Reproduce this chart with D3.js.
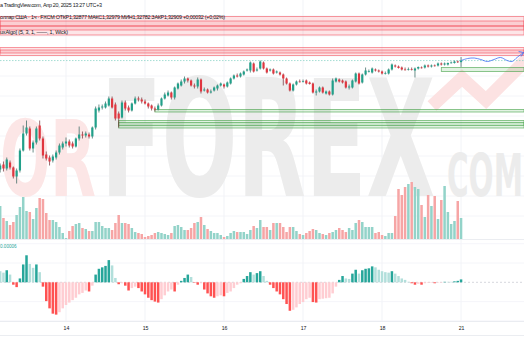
<!DOCTYPE html>
<html><head><meta charset="utf-8">
<script src="https://cdn.jsdelivr.net/npm/d3@7/dist/d3.min.js"></script>
<style>html,body{margin:0;padding:0;background:#fff;overflow:hidden}svg{display:block}</style>
</head><body>
<svg id="c" width="524" height="350"></svg>
<script>
// ---- data (GBP/USD 1h, FXCM) ----
const openP = [1.3073,1.3083,1.3075,1.3087,1.3077,1.3059,1.3071,1.3111,1.3145,1.3155,1.3115,1.3127,1.3161,1.3135,1.3103,1.3097,1.3091,1.3097,1.3107,1.3117,1.3125,1.3129,1.3125,1.3119,1.3135,1.3143,1.3141,1.3143,1.3139,1.3157,1.3191,1.3197,1.3197,1.3201,1.3215,1.3203,1.3185,1.3177,1.3207,1.3197,1.3191,1.3205,1.3215,1.3213,1.3209,1.3205,1.3201,1.3195,1.3193,1.3201,1.3215,1.3221,1.3227,1.3217,1.3235,1.3241,1.3249,1.3255,1.3251,1.3241,1.3239,1.3253,1.3231,1.3233,1.3227,1.3231,1.3235,1.3241,1.3243,1.3239,1.3245,1.3255,1.3261,1.3259,1.3263,1.3271,1.3271,1.3285,1.3271,1.3275,1.3287,1.3275,1.3271,1.3273,1.3267,1.3267,1.3263,1.3255,1.3245,1.3231,1.3243,1.3249,1.3249,1.3251,1.3247,1.3245,1.3227,1.3229,1.3237,1.3225,1.3229,1.3223,1.3249,1.3253,1.3251,1.3249,1.3237,1.3237,1.3249,1.3265,1.3247,1.3263,1.3269,1.3267,1.3273,1.3271,1.3269,1.3265,1.3265,1.3273,1.3281,1.3279,1.3277,1.3273,1.3273,1.3274,1.3271,1.3275,1.3277,1.3277,1.3281,1.3279,1.3281,1.3281,1.3285,1.3283,1.3283,1.3286,1.3286,1.3289,1.32877];
const highP = [1.3085,1.3089,1.3097,1.3091,1.3079,1.3075,1.3115,1.3161,1.3171,1.3159,1.3131,1.3159,1.3171,1.3139,1.3109,1.3101,1.3103,1.3111,1.3125,1.3129,1.3137,1.3133,1.3129,1.3137,1.3159,1.3149,1.3149,1.3147,1.3159,1.3199,1.3203,1.3203,1.3209,1.3219,1.3219,1.3207,1.3189,1.3211,1.3211,1.3201,1.3207,1.3219,1.3219,1.3217,1.3213,1.3207,1.3203,1.3199,1.3205,1.3217,1.3227,1.3231,1.3229,1.3239,1.3247,1.3253,1.3259,1.3257,1.3253,1.3245,1.3257,1.3255,1.3237,1.3235,1.3233,1.3239,1.3243,1.3247,1.3245,1.3249,1.3257,1.3263,1.3265,1.3267,1.3271,1.3275,1.3289,1.3287,1.3277,1.3291,1.3289,1.3277,1.3275,1.3275,1.3271,1.3269,1.3265,1.3257,1.3247,1.3245,1.3251,1.3253,1.3253,1.3253,1.3249,1.3247,1.3233,1.3239,1.3239,1.3231,1.3231,1.3255,1.3257,1.3255,1.3253,1.3251,1.3243,1.3253,1.3267,1.3267,1.3265,1.3277,1.3273,1.3277,1.3275,1.3273,1.3271,1.3269,1.3275,1.3285,1.3283,1.3281,1.3279,1.3277,1.3277,1.3277,1.3277,1.3279,1.3279,1.3283,1.3283,1.3283,1.3283,1.3287,1.3287,1.3287,1.3287,1.3289,1.3291,1.3291,1.32979];
const lowP = [1.3067,1.3069,1.3071,1.3073,1.3055,1.3045,1.3067,1.3109,1.3141,1.3111,1.3107,1.3123,1.3131,1.3095,1.3091,1.3081,1.3087,1.3093,1.3103,1.3113,1.3119,1.3117,1.3115,1.3117,1.3131,1.3135,1.3137,1.3135,1.3135,1.3153,1.3187,1.3193,1.3195,1.3199,1.3195,1.3171,1.3157,1.3175,1.3191,1.3187,1.3189,1.3203,1.3209,1.3205,1.3203,1.3195,1.3191,1.3189,1.3191,1.3199,1.3213,1.3219,1.3213,1.3213,1.3233,1.3239,1.3245,1.3247,1.3239,1.3235,1.3235,1.3225,1.3229,1.3225,1.3225,1.3229,1.3231,1.3239,1.3235,1.3237,1.3243,1.3253,1.3257,1.3257,1.3261,1.3269,1.3267,1.3267,1.3269,1.3273,1.3273,1.3265,1.3269,1.3263,1.3265,1.3261,1.3241,1.3243,1.3229,1.3229,1.3241,1.3247,1.3247,1.3243,1.3243,1.3225,1.3221,1.3227,1.3225,1.3223,1.3221,1.3221,1.3247,1.3247,1.3245,1.3235,1.3233,1.3235,1.3247,1.3243,1.3245,1.3261,1.3267,1.3265,1.3269,1.3267,1.3263,1.3263,1.3263,1.3271,1.3277,1.3275,1.3271,1.3271,1.3271,1.3271,1.3257,1.3273,1.3275,1.3275,1.3277,1.3277,1.3279,1.3279,1.3281,1.3281,1.3281,1.3285,1.3285,1.3286,1.32782];
const closeP = [1.3081,1.3075,1.3093,1.3077,1.3059,1.3071,1.3111,1.3145,1.3157,1.3115,1.3127,1.3155,1.3135,1.3101,1.3095,1.3089,1.3099,1.3107,1.3121,1.3125,1.3129,1.3121,1.3119,1.3135,1.3143,1.3141,1.3145,1.3139,1.3157,1.3195,1.3197,1.3199,1.3205,1.3215,1.3197,1.3175,1.3175,1.3207,1.3195,1.3191,1.3205,1.3215,1.3213,1.3209,1.3205,1.3199,1.3195,1.3193,1.3201,1.3215,1.3223,1.3227,1.3217,1.3237,1.3245,1.3249,1.3255,1.3251,1.3241,1.3239,1.3253,1.3229,1.3233,1.3227,1.3229,1.3237,1.3241,1.3245,1.3239,1.3247,1.3255,1.3261,1.3259,1.3265,1.3269,1.3273,1.3287,1.3269,1.3273,1.3289,1.3275,1.3267,1.3273,1.3265,1.3269,1.3263,1.3255,1.3245,1.3231,1.3243,1.3249,1.3248,1.3250,1.3245,1.3244,1.3227,1.3229,1.3237,1.3227,1.3229,1.3223,1.3251,1.3255,1.3249,1.3247,1.3237,1.3239,1.3251,1.3265,1.3245,1.3263,1.3271,1.3270,1.3275,1.3271,1.3269,1.3265,1.3266,1.3273,1.3283,1.3279,1.3276,1.3273,1.3272,1.3274,1.3273,1.3275,1.3278,1.3276,1.3281,1.3279,1.3281,1.3280,1.3285,1.3283,1.3285,1.3286,1.3287,1.3289,1.32877,1.32909];
const volume = [16500,10500,9000,7000,8500,12000,16000,21000,14000,13500,10000,15500,20500,20000,13000,9500,9500,8500,6000,3000,500,4000,6500,7500,8000,5500,5000,4000,4000,8500,8500,6500,5500,5500,4500,8000,12000,8000,8000,7500,5500,3500,3000,2500,1000,1500,2000,3000,3500,3000,2500,2000,3000,6500,7000,6000,4500,4500,5500,8000,8500,11000,7000,5000,4000,3000,3000,2000,1000,1500,3000,4000,3500,3500,3500,2500,4500,6500,5500,9500,6000,6000,4500,8000,8000,8000,6000,3500,6000,6000,4000,2500,2000,3000,4000,5000,4500,3000,2500,2000,3000,3500,4500,5500,4500,3500,5500,4500,8000,9500,8500,6000,6000,6000,3000,3500,2000,1500,3000,3000,11500,25000,22000,26000,27500,28500,26000,25000,17000,11000,22000,16500,21500,10000,19500,26500,13500,7500,9000,19000,10500];
const macdHist = [0.00023,0.00020,0.00025,0.00016,-0.00005,-0.00010,0.00008,0.00037,0.00056,0.00038,0.00030,0.00037,0.00021,-0.00009,-0.00039,-0.00054,-0.00065,-0.00067,-0.00062,-0.00054,-0.00047,-0.00042,-0.00037,-0.00032,-0.00025,-0.00022,-0.00017,-0.00019,-0.00007,0.00016,0.00028,0.00031,0.00034,0.00046,0.00035,0.00009,-0.00004,-0.00002,-0.00007,-0.00017,-0.00012,-0.00009,-0.00012,-0.00019,-0.00025,-0.00032,-0.00037,-0.00040,-0.00042,-0.00035,-0.00027,-0.00019,-0.00015,-0.00019,-0.00005,0.00003,0.00009,0.00016,0.00011,-0.00001,-0.00005,-0.00002,-0.00015,-0.00023,-0.00029,-0.00032,-0.00029,-0.00027,-0.00029,-0.00022,-0.00019,-0.00012,-0.00005,-0.00002,0.00007,0.00013,0.00021,0.00016,0.00019,0.00023,0.00013,0.00003,-0.00005,-0.00012,-0.00019,-0.00025,-0.00035,-0.00045,-0.00059,-0.00057,-0.00052,-0.00045,-0.00041,-0.00035,-0.00032,-0.00041,-0.00042,-0.00035,-0.00034,-0.00033,-0.00032,-0.00023,-0.00009,0.00005,0.00013,0.00008,0.00007,0.00018,0.00026,0.00018,0.00025,0.00028,0.00029,0.00033,0.00031,0.00026,0.00023,0.00021,0.00020,0.00023,0.00018,0.00013,0.00008,0.00005,0.00001,-0.00002,-0.00005,-0.00003,-0.00005,-0.00002,-0.00001,-0.00001,-0.00002,-0.00001,-0.00001,0.00001,0.00001,0.00001,0.00002,0.00003,0.00006];
const dayTickIndex = [20,44,68,92,116,140];
const dayTickLabels = ["14","15","16","17","18","21"];
const redZoneTop = [1.3379,1.3370,1.3360,1.3317,1.3312];
const redZoneBottom = [1.3360,1.3352,1.3342,1.3306,1.3301];
const greenZoneTop = [1.3277,1.3193,1.3171,1.3167];
const greenZoneBottom = [1.3269,1.3188,1.3161,1.3156];
const greenZoneStart = [134,47,36,36];
const forecastIndex = [140,142,144,146,148,150,152,154,155.5,157,159];
const forecastPrice = [1.3291,1.3295,1.3296,1.3293,1.3289,1.3293,1.3297,1.3291,1.3289,1.3297,1.3307];
const priceGrid = [1.2980,1.3020,1.3060,1.3100,1.3140,1.3180,1.3220,1.3260,1.3300,1.3340,1.3380];
const macdGrid = [-0.0008,-0.0004,0.0004,0.0008];
const headerLine1 = "a TradingView.com, Апр 20, 2025 13:27 UTC+3";
const headerLine2 = "оллар США · 1ч · FXCM  ОТКР1,32877  МАКС1,32979  МИН1,32782  ЗАКР1,32909  +0,00032 (+0,02%)";
const headerLine3 = "uxAlgo] (5, 3, 1, ——, 1, Wick)";
const macdLabel = "0.00006";

// ---- layout ----
const W = 524;
const svg = d3.select("#c");
const x = d3.scaleLinear().domain([0, 140]).range([0.17, 461.05]);
const y = d3.scaleLinear().domain([1.30, 1.34]).range([206, 6]);
const yv = d3.scaleLinear().domain([0, 30000]).range([239, 179]);
const ym = d3.scaleLinear().domain([-0.0008, 0.0008]).range([320.9, 243.7]);
const idx = d3.range(openP.length);
const UP = "#22a08a", DN = "#e0363f";

// grid
const grid = svg.append("g");
grid.selectAll(".vg").data(dayTickIndex).join("line")
  .attr("x1", d => x(d)).attr("x2", d => x(d)).attr("y1", 0).attr("y2", 321)
  .attr("stroke", "#eef0f5").attr("stroke-width", 0.8);
grid.selectAll(".hg").data(priceGrid).join("line")
  .attr("x1", 0).attr("x2", W).attr("y1", d => y(d)).attr("y2", d => y(d))
  .attr("stroke", "#f1f3f7").attr("stroke-width", 0.8);
grid.selectAll(".mg").data(macdGrid).join("line")
  .attr("x1", 0).attr("x2", W).attr("y1", d => ym(d)).attr("y2", d => ym(d))
  .attr("stroke", "#f1f3f7").attr("stroke-width", 0.8);
[239.5, 321.5, 335.5].forEach(v => grid.append("line").attr("x1", 0).attr("x2", W)
  .attr("y1", v).attr("y2", v).attr("stroke", "#e6e8ee").attr("stroke-width", 0.8));

// watermark (logo) - each word fitted to its width via a horizontal scale
const wm = svg.append("g").attr("font-family", "'DejaVu Sans Condensed', 'DejaVu Sans', sans-serif").attr("font-weight", "bold");
function logoWord(str, x0, base, size, width, color) {
  const t = wm.append("text").attr("x", 0).attr("y", 0).attr("font-size", size).attr("fill", color).text(str);
  const w = t.node().getComputedTextLength();
  t.attr("transform", `translate(${x0},${base}) scale(${width / w},1)`);
}
logoWord("OR", 0, 196, 106, 96, "#fce6e6");
logoWord("FOREX", 101, 196, 162, 334, "#ececec");
logoWord("COM", 447, 196, 59, 76, "#ececec");
wm.append("polyline").attr("points", "432,106 462,78 486,100 530,56")
  .attr("fill", "none").attr("stroke", "#fce2e2").attr("stroke-width", 13).attr("stroke-linejoin", "miter");

// red zones
const rz = svg.append("g");
rz.selectAll("rect").data(redZoneTop.map((t, k) => [t, redZoneBottom[k]])).join("rect")
  .attr("x", 0).attr("width", W).attr("y", d => y(d[0])).attr("height", d => y(d[1]) - y(d[0]))
  .attr("fill", "rgba(242,54,69,0.13)").attr("stroke", "rgba(242,54,69,0.55)").attr("stroke-width", 0.9);

// green zones
const gz = svg.append("g");
gz.selectAll("rect").data(greenZoneTop.map((t, k) => [t, greenZoneBottom[k], greenZoneStart[k]])).join("rect")
  .attr("x", d => x(d[2])).attr("width", d => W - x(d[2])).attr("y", d => y(d[0])).attr("height", d => y(d[1]) - y(d[0]))
  .attr("fill", "rgba(76,175,80,0.16)").attr("stroke", "rgba(67,160,71,0.75)").attr("stroke-width", 0.8);

// last price line
const last = closeP[closeP.length - 1];
svg.append("line").attr("x1", 0).attr("x2", W).attr("y1", y(last)).attr("y2", y(last))
  .attr("stroke", "#7fcfc2").attr("stroke-width", 0.7).attr("stroke-dasharray", "1.5,1.5");

// volume
svg.append("g").selectAll("rect").data(idx).join("rect")
  .attr("x", i => x(i) - 1.25).attr("width", 2.5)
  .attr("y", i => yv(volume[i])).attr("height", i => yv(0) - yv(volume[i]))
  .attr("fill", i => closeP[i] >= openP[i] ? "#93d3c9" : "#f6a5a5");

// candles
const cg = svg.append("g");
cg.selectAll("line").data(idx).join("line")
  .attr("x1", i => x(i)).attr("x2", i => x(i))
  .attr("y1", i => y(highP[i])).attr("y2", i => y(lowP[i]))
  .attr("stroke", i => closeP[i] >= openP[i] ? "#2c5f57" : "#6e2a30").attr("stroke-width", 0.7);
cg.selectAll("rect").data(idx).join("rect")
  .attr("x", i => x(i) - 1.1).attr("width", 2.2)
  .attr("y", i => y(Math.max(openP[i], closeP[i])))
  .attr("height", i => Math.max(0.7, Math.abs(y(openP[i]) - y(closeP[i]))))
  .attr("fill", i => closeP[i] >= openP[i] ? UP : DN);

// forecast
const fc = forecastIndex.map((d, k) => [x(d), y(forecastPrice[k])]);
svg.append("path").attr("d", d3.line().curve(d3.curveCatmullRom)(fc))
  .attr("fill", "none").attr("stroke", "#3d6ef5").attr("stroke-width", 0.8);
const e = fc[fc.length - 1];
svg.append("path").attr("d", `M${e[0]-5},${e[1]-1} L${e[0]},${e[1]} L${e[0]-2.5},${e[1]+4}`)
  .attr("fill", "none").attr("stroke", "#3d6ef5").attr("stroke-width", 0.8);

// MACD histogram
svg.append("line").attr("x1", 0).attr("x2", W).attr("y1", ym(0)).attr("y2", ym(0))
  .attr("stroke", "#b8bcc6").attr("stroke-width", 0.6).attr("stroke-dasharray", "2,2");
svg.append("g").selectAll("rect").data(idx).join("rect")
  .attr("x", i => x(i) - 1.25).attr("width", 2.5)
  .attr("y", i => ym(Math.max(0, macdHist[i])))
  .attr("height", i => Math.max(0.5, Math.abs(ym(macdHist[i]) - ym(0))))
  .attr("fill", i => {
    const v = macdHist[i], p = i > 0 ? macdHist[i - 1] : Infinity;
    if (v >= 0) return (i > 0 && v > p) ? "#26a69a" : "#b2dfdb";
    return (i > 0 && v < p) ? "#ff5252" : "#ffcdd2";
  });

// time axis
const ax = svg.append("g").attr("transform", "translate(0,324)")
  .call(d3.axisBottom(x).tickValues(dayTickIndex).tickFormat((d, k) => dayTickLabels[k]).tickSize(0).tickPadding(2));
ax.select(".domain").remove();
ax.selectAll("text").attr("font-size", 5.2).attr("fill", "#131722").attr("font-family", "'Liberation Sans', Arial, sans-serif");

// header text
const ht = svg.append("g").attr("font-family", "'Liberation Sans', Arial, sans-serif").attr("fill", "#131722");
ht.append("text").attr("x", 0).attr("y", 7).attr("font-size", 5.4).attr("textLength", 102).text(headerLine1);
ht.append("text").attr("x", 0).attr("y", 19.3).attr("font-size", 5.4).attr("textLength", 225).text(headerLine2);
ht.append("text").attr("x", 0).attr("y", 34).attr("font-size", 5.4).attr("textLength", 68).text(headerLine3);
svg.append("text").attr("x", 0).attr("y", 247.5).attr("font-size", 4.6).attr("fill", "#26a69a")
  .attr("font-family", "'Liberation Sans', Arial, sans-serif").text(macdLabel);
</script>
</body></html>
